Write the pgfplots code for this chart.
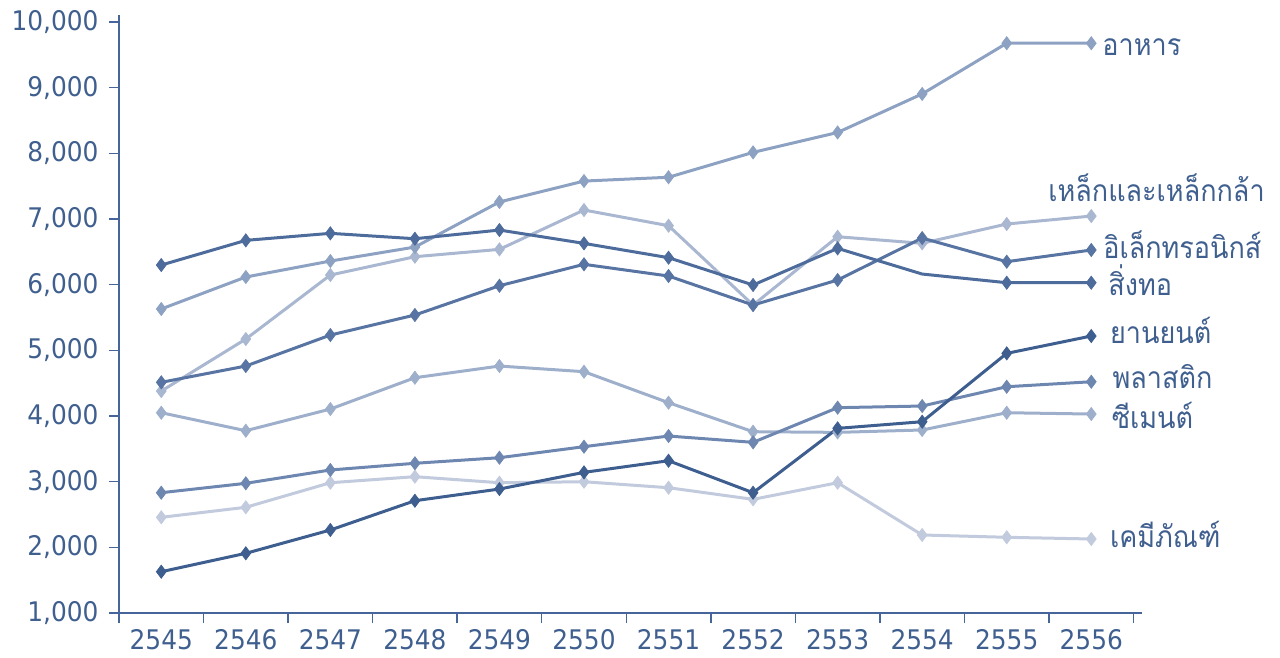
\documentclass[border=0pt]{standalone}
\usepackage{fontspec}
\setmainfont[FakeStretch=0.92]{DejaVu Sans}
\newfontfamily\thaifont[Script=Thai,FakeStretch=0.9]{Loma}
\usepackage{pgfplots}
\pgfplotsset{compat=1.18}
\definecolor{axc}{HTML}{46659A}
\definecolor{labc}{HTML}{3F5F8F}
\definecolor{cfood}{HTML}{8DA2C2}
\definecolor{csteel}{HTML}{A9B7D1}
\definecolor{ctext}{HTML}{4D6B9B}
\definecolor{celec}{HTML}{5874A2}
\definecolor{ccem}{HTML}{9EAFCB}
\definecolor{cplas}{HTML}{6E87B0}
\definecolor{cauto}{HTML}{3D5E8E}
\definecolor{cchem}{HTML}{C2CADD}
\begin{document}
\begin{tikzpicture}[x=1pt,y=1pt]
\path[use as bounding box] (0,0) rectangle (1280,657);
\begin{axis}[
  at={(119pt,44pt)}, anchor=south west,
  width=1023pt, height=598pt, scale only axis,
  xmin=-0.5, xmax=11.6, ymin=1000, ymax=10107,
  axis x line*=bottom, axis y line*=left,
  axis line style={-, draw=axc, line width=1.5pt},
  clip=false,
  ytick={1000,2000,...,10000},
  scaled y ticks=false,
  xtick={0,...,11},
  xticklabels={2545,2546,2547,2548,2549,2550,2551,2552,2553,2554,2555,2556},
  minor xtick={-0.5,0.5,...,11.5},
  major x tick style={draw=none},
  tick align=outside,
  major tick length=10pt, minor tick length=10pt,
  tick style={draw=axc, line width=1.5pt},
  /pgf/number format/.cd, assume math mode=true, 1000 sep={,},
  /pgfplots/.cd,
  tick label style={font=\fontsize{27}{32}\selectfont, text=labc},
  yticklabel style={xshift=-7pt},
  xticklabel style={yshift=-3pt},
  every axis plot/.append style={line width=3pt, mark=diamond*, mark size=6.5pt, mark options={solid, line width=0.8pt}},
]
% chemicals
\addplot[color=cchem] coordinates {(0,2457)(1,2610)(2,2984)(3,3076)(4,2984)(5,2999)(6,2908)(7,2731)(8,2984)(9,2188)(10,2153)(11,2127)};
% cement
\addplot[color=ccem] coordinates {(0,4050)(1,3776)(2,4106)(3,4583)(4,4761)(5,4675)(6,4203)(7,3761)(8,3751)(9,3787)(10,4050)(11,4030)};
% steel
\addplot[color=csteel] coordinates {(0,4380)(1,5172)(2,6147)(3,6426)(4,6538)(5,7137)(6,6898)(7,5690)(8,6730)(9,6630)(10,6924)(11,7045)};
% food
\addplot[color=cfood] coordinates {(0,5630)(1,6117)(2,6360)(3,6573)(4,7260)(5,7578)(6,7636)(7,8015)(8,8318)(9,8905)(10,9677)(11,9677)};
% plastic
\addplot[color=cplas] coordinates {(0,2832)(1,2975)(2,3178)(3,3280)(4,3365)(5,3533)(6,3695)(7,3599)(8,4127)(9,4152)(10,4446)(11,4522)};
% electronics
\addplot[color=celec] coordinates {(0,4513)(1,4761)(2,5233)(3,5538)(4,5984)(5,6310)(6,6132)(7,5690)(8,6071)(9,6710)(10,6350)(11,6528)};
% textile
\addplot[color=ctext, mark indices={1,2,3,4,5,6,7,8,9,11,12}] coordinates {(0,6299)(1,6675)(2,6782)(3,6700)(4,6832)(5,6629)(6,6411)(7,5995)(8,6553)(9,6162)(10,6030)(11,6030)};
% automotive
\addplot[color=cauto] coordinates {(0,1629)(1,1909)(2,2264)(3,2710)(4,2888)(5,3142)(6,3319)(7,2832)(8,3812)(9,3913)(10,4954)(11,5218)};

\tikzset{lab/.style={anchor=base west, inner sep=0pt, text=labc, font=\thaifont\fontsize{30}{36}\selectfont}}
\node[lab] at (axis cs:11.13,9497) {อาหาร};
\node[lab] at (axis cs:10.49,7274) {เหล็กและเหล็กกล้า};
\node[lab] at (axis cs:11.14,6406) {อิเล็กทรอนิกส์};
\node[lab] at (axis cs:11.20,5842) {สิ่งทอ};
\node[lab] at (axis cs:11.22,5111) {ยานยนต์};
\node[lab] at (axis cs:11.25,4426) {พลาสติก};
\node[lab] at (axis cs:11.24,3817) {ซีเมนต์};
\node[lab] at (axis cs:11.22,1990) {เคมีภัณฑ์};
\end{axis}
\end{tikzpicture}
\end{document}
